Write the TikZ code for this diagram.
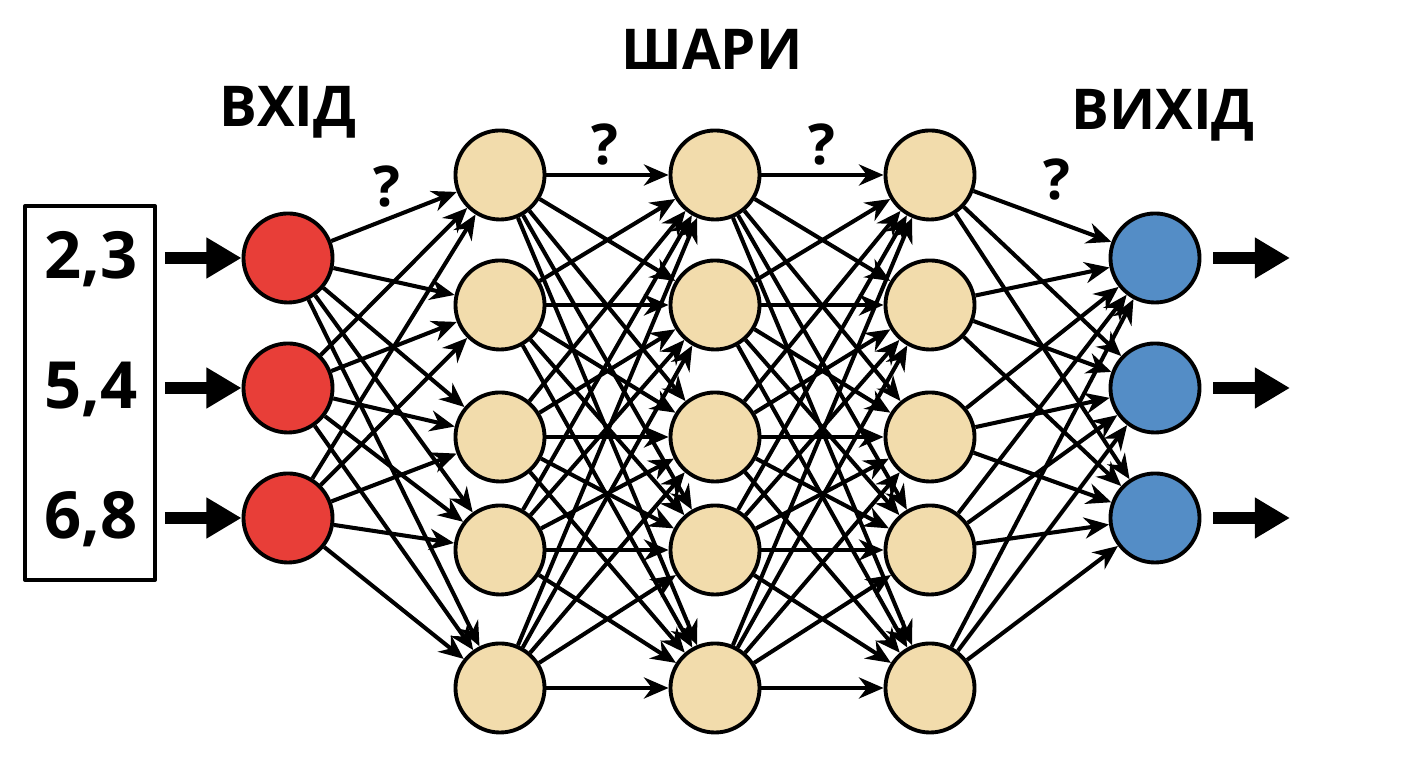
\documentclass[tikz,border=0pt]{standalone}
\usepackage{fontspec}
\setmainfont{Open Sans}
\usetikzlibrary{arrows.meta}
\definecolor{inred}{RGB}{232,62,56}
\definecolor{hidtan}{RGB}{242,220,172}
\definecolor{outblue}{RGB}{84,141,198}
\begin{document}
\begin{tikzpicture}[x=0.01cm,y=-0.01cm,>={Stealth[length=7pt,width=6pt]},line join=round,
	neuron/.style={circle,draw,line width=1.1pt,minimum size=0.89cm,inner sep=0pt},
	link/.style={->,line width=1.15pt},
	bigarrow/.style={-{Triangle[length=10pt,width=11pt]},line width=3.6pt},
	lbl/.style={font=\bfseries\fontsize{16}{16}\selectfont,anchor=base},
	numlbl/.style={font=\bfseries\fontsize{18.5}{18.5}\selectfont,anchor=base}]
	\useasboundingbox (0,0) rectangle (1408,768);
	% input box and input neurons
	\node[draw,line width=1pt,minimum width=1.3cm,minimum height=3.74cm] (inbox) at (90,393) {};
	\node[numlbl] (num1) at (91,279) {2,3};
	\node[numlbl] (num2) at (91,409) {5,4};
	\node[numlbl] (num3) at (91,539) {6,8};
	\foreach \y [count=\i] in {258,388,518}{
		\node[neuron,fill=inred] (i\i) at (288,\y) {};
		\draw[bigarrow,shorten <=0.08cm] (inbox.east |- i\i) -- (i\i);
	}
	% hidden layers
	\foreach \l/\x in {1/500,2/715,3/930}
		\foreach \y [count=\j] in {175,305,437,550,688}
			\node[neuron,fill=hidtan] (h\l\j) at (\x,\y) {};
	% output neurons
	\foreach \y [count=\k] in {258,388,518}{
		\node[neuron,fill=outblue] (o\k) at (1155,\y) {};
		\coordinate (end\k) at (1290,\y);
		\draw[bigarrow,shorten <=0.12cm] (o\k) -- (end\k);
	}
	% connections
	\foreach \a in {1,2,3}
		\foreach \b in {1,...,5}
			\draw[link] (i\a) -- (h1\b);
	\foreach \l/\m in {1/2,2/3}
		\foreach \a in {1,...,5}
			\foreach \b in {1,...,5}
				\draw[link] (h\l\a) -- (h\m\b);
	\foreach \a in {1,...,5}
		\foreach \b in {1,2,3}
			\draw[link] (h3\a) -- (o\b);
	% labels
	\node[lbl] (inlabel) at (288,127) {ВХІД};
	\node[lbl] (layerlabel) at (712,70) {ШАРИ};
	\node[lbl] (outlabel) at (1163,130) {ВИХІД};
	\node[lbl] (q1) at (387,207) {?};
	\node[lbl] (q2) at (605,165) {?};
	\node[lbl] (q3) at (822,165) {?};
	\node[lbl] (q4) at (1057,200) {?};
\end{tikzpicture}
\end{document}
